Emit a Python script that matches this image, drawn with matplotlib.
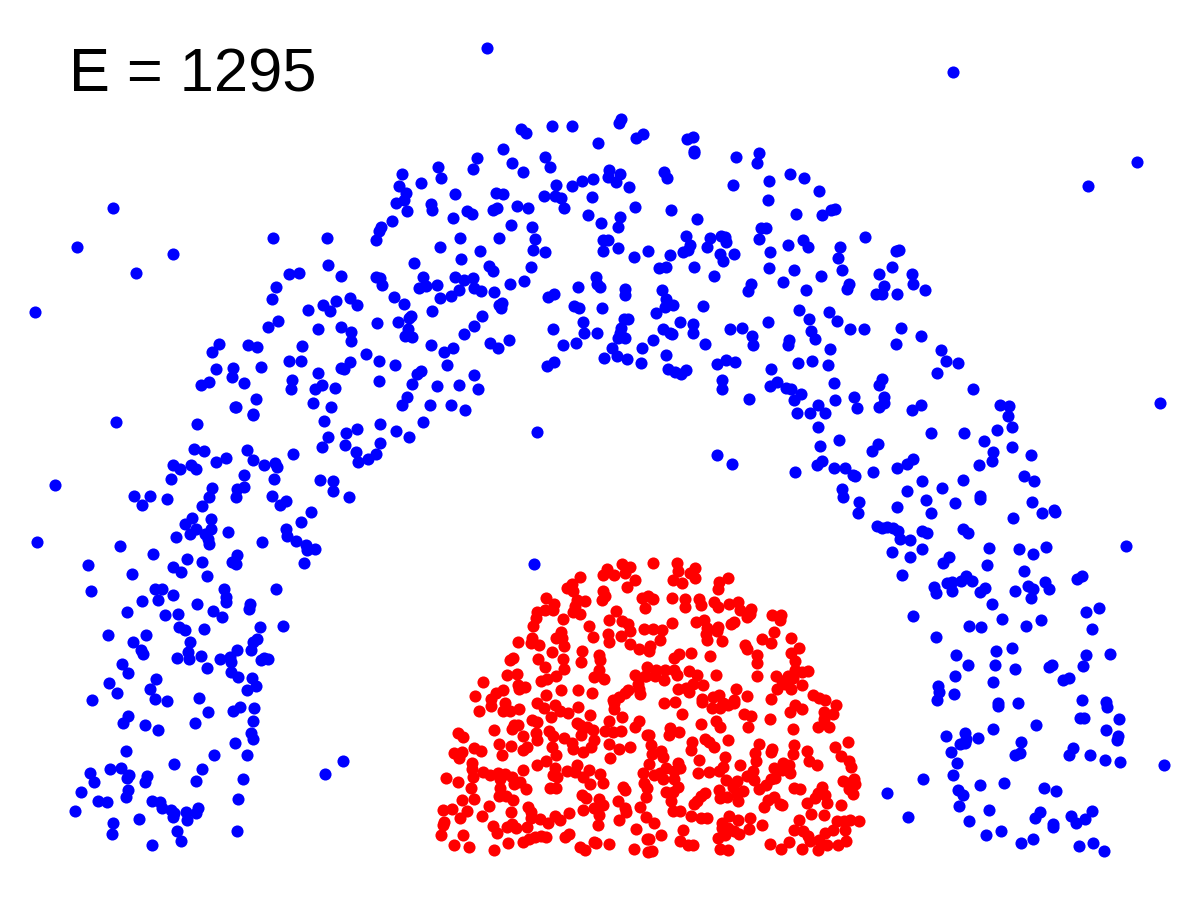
import numpy as np
import matplotlib
matplotlib.use('Agg')
import matplotlib.pyplot as plt

energy_label = 'E = 1295'

# points, grouped by part of the arc
blue_outliers = [(487,48),(953,72),(1137,162),(1088,186),(113,208),(77,247),(173,254),(136,273),(35,312),
    (537,432),(717,455),(732,464),(1160,403),(1126,546),(534,564)]

blue_left_mid = [(116,422),(197,424),(236,407),(253,415),(194,449),(204,451),(173,465),(180,469),(191,465),(196,469),
    (216,462),(226,458),(247,450),(253,460),(264,465),(275,463),(277,467),(293,454),(244,475),(274,479),(171,479),
    (212,488),(209,497),(237,489),(244,487),(236,497),(272,496),(286,501),(280,505),(311,512),(301,522),(134,496),
    (150,496),(142,505),(167,499),(55,485),(202,506),(192,518),(211,519),(185,524),(196,529),(211,529),(190,534),
    (205,534),(208,539),(209,544),(176,537),(228,532),(262,542),(286,529),(287,536),(296,541),(306,545),(307,550),
    (315,549),(304,563),(37,542),(120,546),(153,554),(88,565),(132,574),(91,591),(187,559),(202,562),(173,567),
    (181,572),(207,576),(237,555),(232,562),(236,564),(155,589),(162,589),(173,595),(158,600),(142,601),(224,589),
    (226,597),(226,602),(276,589),(197,604),(213,611),(222,617),(250,604),(249,609),(127,612),(165,615),(178,614)]

blue_left_low = [(108,635),(133,642),(146,635),(141,650),(143,654),(179,627),(185,630),(204,629),(260,627),(283,626),
    (190,642),(188,652),(177,658),(189,659),(201,656),(207,668),(220,659),(230,657),(231,662),(237,650),(251,650),
    (253,642),(257,639),(261,660),(264,658),(268,659),(122,664),(128,673),(231,672),(238,677),(252,678),(256,686),
    (247,690),(109,683),(117,693),(92,700),(156,679),(150,689),(155,699),(167,701),(199,698),(208,712),(195,723),
    (233,711),(240,707),(254,708),(253,721),(128,716),(123,723),(145,725),(158,730),(251,733),(253,739),(235,743),
    (126,751),(214,755),(247,755),(343,761),(325,774),(174,764),(202,769),(196,781),(243,779),(121,768),(110,769),
    (90,773),(94,782),(129,775),(127,778),(147,776),(145,782),(128,790),(126,797),(81,792),(98,801),(107,802),
    (75,811),(152,801),(160,802),(162,808),(171,810),(174,813),(173,817),(186,812),(198,808),(196,813),(187,820),
    (238,799),(139,819),(113,823),(112,834),(177,831),(181,841),(152,845),(237,831)]

blue_upper_left = [(273,238),(327,238),(328,265),(341,276),(289,274),(299,273),(276,287),(272,299),(350,298),(357,305),
    (336,301),(323,305),(330,311),(308,310),(278,321),(268,327),(318,329),(341,327),(351,332),(351,341),(219,344),
    (212,352),(248,345),(257,347),(302,346),(289,361),(301,361),(366,354),(216,369),(233,368),(232,377),(261,367),
    (244,383),(209,382),(201,385),(350,362),(341,368),(344,369),(318,373),(292,380),(291,389),(322,385),(315,389),
    (335,388),(256,399),(235,407),(253,414),(313,403),(331,407),(379,381),(412,384),(437,386),(459,385),(478,389),
    (407,397),(402,405),(430,405),(451,405),(465,410),(322,447),(328,437),(324,421),(346,433),(345,445),(357,429),
    (356,452),(358,462),(368,459),(376,454),(380,443),(380,424),(396,431),(409,437),(423,422),(320,480),(333,481),
    (333,491),(349,497)]

blue_top = [(521,129),(526,133),(552,126),(572,126),(621,119),(619,123),(643,134),(636,138),(598,143),(503,149),
    (477,158),(473,169),(512,163),(523,172),(545,157),(550,167),(438,167),(441,178),(402,174),(421,183),(399,186),
    (406,193),(404,200),(396,203),(407,211),(431,204),(432,210),(455,194),(453,218),(467,211),(472,214),(496,193),
    (503,194),(493,210),(497,208),(517,206),(528,208),(556,185),(572,186),(582,181),(593,179),(609,170),(608,177),
    (620,174),(616,182),(629,187),(664,172),(667,178),(544,196),(555,196),(561,198),(564,208),(592,197),(635,207),
    (671,210),(588,215),(601,223),(620,217),(618,227),(603,240),(608,240),(603,251),(618,248),(634,257),(648,251),
    (670,255),(392,221),(381,227),(379,231),(376,240),(511,225),(532,227),(535,239),(533,250),(545,252),(499,238),
    (460,238),(440,247),(480,251),(461,259),(414,263),(489,266),(493,271),(531,267),(376,277),(380,278),(382,285),
    (423,277),(419,288),(426,286),(437,285),(455,277),(464,280),(473,278),(459,290),(451,296),(440,298),(474,288),
    (481,291),(494,292),(510,284),(524,281),(394,297),(404,304),(432,311),(499,305),(502,303),(501,308),(482,316),
    (411,316),(409,318),(377,323),(398,322),(408,329),(405,336),(412,337),(474,326),(464,334),(431,345),(453,348),
    (444,352),(490,343),(498,348),(509,340),(379,361),(395,365),(447,365),(421,371),(417,374),(474,375),(548,297),
    (554,294),(578,287),(596,277),(597,284),(600,287),(625,289),(625,295),(662,290),(666,299),(665,307),(656,313),
    (574,306),(579,308),(602,308),(583,322),(553,329),(584,333),(597,333),(563,345),(576,343),(624,319),(628,319),
    (621,328),(620,333),(618,338),(625,338),(612,348),(617,356),(604,358),(627,359),(642,348),(653,340),(663,329),
    (670,333),(666,355),(641,363),(554,362),(547,366),(668,369),(659,268),(666,267)]

blue_upper_right = [(687,139),(693,137),(694,151),(694,153),(736,157),(759,153),(757,163),(733,185),(769,181),(790,174),
    (804,178),(819,191),(768,200),(697,219),(796,214),(822,215),(831,210),(835,209),(761,228),(766,228),(759,239),
    (686,236),(690,245),(688,250),(683,252),(710,238),(707,247),(721,236),(725,237),(726,242),(720,254),(723,261),
    (734,254),(694,267),(714,276),(865,237),(803,240),(808,247),(788,245),(770,252),(769,268),(794,270),(783,282),
    (821,276),(840,247),(838,258),(842,270),(849,284),(847,289),(806,290),(751,284),(748,291),(899,250),(896,251),
    (892,267),(879,274),(912,274),(913,284),(925,290),(884,286),(882,294),(876,294),(897,294),(703,306),(799,310),
    (829,312),(809,319),(837,321),(768,322),(850,329),(864,329),(901,328),(921,336),(896,344),(941,350),(946,361),
    (958,363),(937,373),(680,322),(693,324),(693,333),(672,334),(730,329),(742,328),(752,336),(753,345),(705,344),
    (789,340),(788,345),(811,331),(815,339),(830,349),(717,364),(726,360),(735,362),(675,372),(681,374),(686,370),
    (771,369),(798,363),(812,361),(828,365),(722,380),(722,389),(770,386),(777,382),(786,388),(791,389),(801,394),
    (794,400),(834,383),(882,379),(879,385),(749,399),(854,397),(835,400),(884,397),(673,305)]

blue_right_mid = [(973,389),(857,408),(884,403),(879,407),(818,405),(810,413),(825,413),(797,413),(921,405),(912,410),
    (818,427),(839,440),(820,446),(878,444),(872,451),(931,433),(964,433),(984,441),(997,430),(1012,427),(1008,416),
    (1000,405),(1009,406),(1012,447),(993,452),(992,461),(979,465),(1031,455),(1024,476),(1034,481),(963,480),
    (913,459),(907,464),(897,468),(873,472),(822,461),(817,465),(834,468),(845,468),(853,475),(855,476),(795,472),
    (842,489),(843,497),(859,502),(858,513),(922,481),(907,491),(942,488),(926,500),(897,507),(931,513),(955,503),
    (980,496),(980,499),(1032,502),(1042,513),(1054,510),(1055,512),(1013,518),(877,526),(882,528),(887,527),
    (893,528),(898,531),(900,539),(910,540),(922,531),(927,533),(922,549),(892,552),(910,557),(963,529),(968,533),
    (989,548),(1019,549),(1033,554),(1046,547),(949,557),(943,563),(987,565),(1024,571),(902,575),(966,576),(947,583),
    (952,582),(961,581),(972,581),(934,587),(936,593),(952,591),(985,588),(980,592),(1015,591),(1028,586),(1033,589),
    (1045,582),(1049,589),(1031,598),(992,604),(1082,576),(1077,579),(913,616),(1002,619),(1041,620),(1086,612)]

blue_right_low = [(1099,608),(1092,629),(969,626),(981,627),(1026,626),(936,637),(956,655),(968,665),(996,651),(1012,648),
    (995,665),(1015,669),(993,682),(955,676),(938,686),(939,692),(937,700),(954,694),(998,703),(998,706),(1018,703),
    (1049,667),(1052,665),(1063,680),(1069,678),(1086,655),(1110,654),(1083,666),(1082,700),(1106,702),(1107,707),
    (1119,719),(1080,718),(1084,718),(1106,730),(1118,736),(1117,740),(1036,725),(993,729),(946,736),(965,733),
    (966,739),(978,738),(965,743),(960,744),(951,752),(957,763),(1021,742),(1020,753),(1015,755),(1073,748),(1069,755),
    (1090,755),(1105,760),(1120,762),(1164,765),(953,775),(923,779),(887,793),(908,817),(958,790),(963,795),(980,785),
    (1004,783),(959,806),(989,810),(1044,788),(1056,791),(969,821),(986,835),(1001,831),(1021,843),(1033,839),
    (1040,812),(1035,818),(1053,824),(1053,827),(1071,816),(1076,823),(1085,819),(1092,811),(1079,846),(1093,843),
    (1104,851)]

red_upper_left = [(580,577),(607,569),(622,564),(630,567),(603,575),(614,575),(625,573),(635,580),(627,587),(572,584),
    (567,588),(573,591),(603,591),(605,596),(602,600),(546,598),(554,604),(553,610),(545,610),(537,612),(536,618),
    (533,626),(585,601),(577,600),(575,606),(573,612),(580,614),(563,619),(616,611),(609,620),(622,621),(628,624),
    (589,626),(593,637),(608,634),(609,642),(621,636),(630,631),(630,644),(639,649),(644,629),(642,598),(645,608),
    (561,632),(556,638),(562,638),(564,646),(518,642),(532,638),(531,643),(539,645),(552,652),(582,651),(581,662),
    (599,655),(600,660),(563,659),(513,658),(510,660),(538,659),(545,667),(564,669),(556,676),(547,679),(541,681),
    (507,675),(517,674),(483,682),(599,670),(594,677),(604,679),(647,667),(635,675),(645,676),(638,684),(639,689),
    (640,694),(628,690),(625,693),(619,697),(613,700),(518,685),(519,689),(525,687),(561,690),(578,690),(592,693),
    (546,695),(503,690),(496,693),(491,699),(475,696)]

red_lower_left = [(491,706),(479,711),(505,703),(503,711),(510,711),(519,709),(537,703),(544,708),(555,705),(560,711),
    (551,717),(568,713),(578,707),(590,715),(614,703),(614,709),(622,717),(532,720),(537,722),(514,725),(518,725),
    (512,729),(494,730),(577,723),(580,725),(587,727),(593,730),(609,721),(605,731),(613,732),(621,731),(639,721),
    (635,727),(458,733),(463,737),(523,736),(536,733),(537,740),(549,731),(553,736),(564,738),(581,735),(594,740),
    (591,747),(572,743),(573,749),(583,752),(499,744),(511,746),(527,747),(523,750),(502,755),(474,748),(481,751),
    (462,752),(454,753),(459,758),(472,763),(472,769),(473,777),(483,772),(490,775),(498,773),(505,774),(512,777),
    (514,784),(520,782),(526,789),(523,770),(537,765),(546,761),(552,747),(556,755),(555,768),(553,775),(557,777),
    (567,771),(577,765),(575,772),(583,777),(589,770),(590,784),(600,774),(603,783),(609,744),(619,749),(630,747),
    (610,758),(647,735),(643,773),(644,783),(446,778),(458,782),(471,788),(474,799),(462,800),(500,779),(500,788),
    (499,796),(506,796),(513,800),(550,788),(556,788),(623,787),(625,790),(582,795),(586,798),(599,799),(603,805),
    (594,808),(618,801),(625,808),(626,812),(640,807),(583,810),(599,815),(569,813),(619,820),(646,817),(598,825),
    (443,810),(452,809),(467,811),(460,818),(489,806),(482,816),(444,822),(443,825),(511,812),(528,807),(531,812),
    (531,818),(540,819),(548,823),(555,816),(560,820),(527,827),(512,824),(507,827),(516,828),(493,826),(497,833),
    (636,829),(441,835),(463,835),(454,845),(469,847),(494,850),(508,843),(523,842),(529,839),(535,837),(541,836),
    (546,837),(569,834),(565,837),(580,847),(585,850),(594,842),(596,843),(609,844),(634,849),(647,839),(648,852)]

red_upper_right = [(653,563),(677,563),(678,571),(695,568),(690,573),(695,578),(673,580),(682,583),(728,578),(719,582),
    (718,589),(672,598),(685,599),(685,607),(699,599),(701,605),(714,602),(718,607),(729,604),(738,602),(740,610),
    (751,609),(750,614),(747,617),(772,615),(781,615),(780,620),(653,599),(648,596),(672,623),(696,622),(704,620),
    (707,628),(718,627),(717,631),(706,634),(707,640),(722,641),(731,624),(734,622),(653,629),(662,630),(660,640),
    (650,646),(649,651),(774,632),(762,639),(771,643),(745,645),(747,649),(757,655),(757,663),(791,638),(799,648),
    (791,653),(795,661),(691,653),(679,654),(674,658),(710,656),(656,670),(655,676),(646,676),(665,670),(664,680),
    (674,670),(677,675),(689,671),(697,675),(716,675),(757,676),(776,676),(795,670),(808,671),(802,672),(788,676),
    (793,678),(782,681),(785,684),(777,689),(791,689),(802,685),(703,685),(693,684),(686,688),(678,689),(689,692),
    (702,699),(736,689),(747,696),(734,700),(719,695),(713,697),(771,699),(813,695),(819,698),(825,700),(836,705),
    (664,703),(675,702)]

red_lower_right = [(682,714),(702,702),(712,708),(720,708),(723,703),(734,703),(728,705),(744,714),(751,716),(748,727),
    (770,719),(701,724),(716,721),(720,727),(670,728),(669,735),(679,732),(790,712),(795,705),(802,709),(793,729),
    (824,712),(833,714),(824,719),(818,727),(829,727),(649,735),(651,745),(652,754),(661,751),(663,757),(649,764),
    (692,742),(691,750),(705,739),(709,742),(714,747),(728,740),(759,744),(755,753),(756,761),(772,749),(771,752),
    (794,745),(793,754),(807,751),(809,761),(817,765),(835,747),(848,742),(841,756),(849,761),(851,767),(699,760),
    (725,757),(740,765),(723,767),(719,771),(709,772),(698,773),(678,763),(680,768),(666,768),(674,771),(660,773),
    (654,775),(663,779),(674,779),(678,787),(783,763),(789,765),(774,768),(782,770),(790,773),(775,778),(771,779),
    (753,771),(747,776),(754,780),(766,785),(759,789),(726,780),(737,781),(733,787),(743,791),(719,790),(720,798),
    (727,797),(737,794),(738,801),(705,793),(701,796),(697,801),(694,804),(647,788),(646,797),(666,792),(673,792),
    (671,801),(673,811),(680,811),(691,816),(701,818),(707,818),(654,823),(794,788),(800,789),(774,797),(768,800),
    (764,807),(780,804),(782,805),(822,787),(818,793),(825,795),(815,798),(807,803),(827,803),(841,805),(811,814),
    (824,815),(843,781),(848,783),(854,779),(855,784),(849,789),(853,794),(729,816),(738,820),(750,818),(722,823),
    (722,828),(728,828),(734,831),(739,834),(749,829),(762,825),(725,835),(718,838),(720,849),(728,850),(683,830),
    (680,841),(688,845),(693,845),(661,835),(649,839),(652,851),(770,844),(781,849),(789,842),(802,849),(799,820),
    (794,830),(803,831),(808,836),(810,841),(818,850),(819,840),(827,845),(825,833),(833,830),(837,821),(844,821),
    (850,820),(859,821),(845,830),(846,841),(838,845)]

blue = np.array(blue_outliers + blue_left_mid + blue_left_low + blue_upper_left + blue_top
                + blue_upper_right + blue_right_mid + blue_right_low)
red = np.array(red_upper_left + red_lower_left + red_upper_right + red_lower_right)

fig = plt.figure(figsize=(6, 4.5), dpi=200)
ax = fig.add_axes([0, 0, 1, 1])
ax.scatter(blue[:, 0], blue[:, 1], s=19, c='#0000ff', linewidths=0)
ax.scatter(red[:, 0], red[:, 1], s=19, c='#ff0000', linewidths=0)
ax.set_xlim(0, 1200)
ax.set_ylim(900, 0)
ax.axis('off')
ax.text(69, 92, energy_label, family='Liberation Sans', fontsize=22.1, color='black', va='baseline', ha='left')

fig.savefig('out.png', dpi=200, facecolor='white')
